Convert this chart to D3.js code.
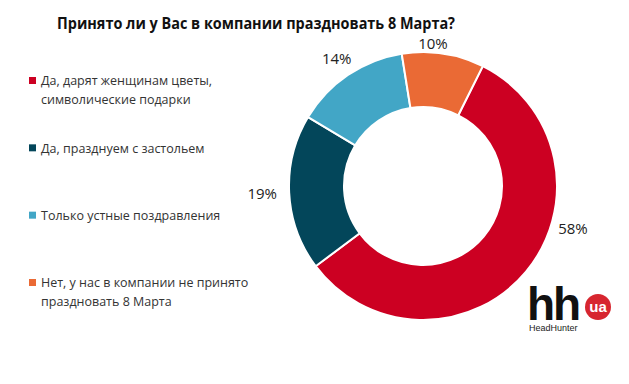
<!DOCTYPE html>
<html>
<head>
<meta charset="utf-8">
<script src="https://cdn.jsdelivr.net/npm/d3@7"></script>
<style>
  body { margin: 0; background: #fff; }
  svg { display: block; font-family: "Open Sans", "Noto Sans", sans-serif; }
</style>
</head>
<body>
<div id="chart"></div>
<script>
// data
const categories = [
  "Да, дарят женщинам цветы, символические подарки",
  "Да, празднуем с застольем",
  "Только устные поздравления",
  "Нет, у нас в компании не принято праздновать 8 Марта"
];
const legendLines = [
  ["Да, дарят женщинам цветы,", "символические подарки"],
  ["Да, празднуем с застольем"],
  ["Только устные поздравления"],
  ["Нет, у нас в компании не принято", "праздновать 8 Марта"]
];
const values = [58, 19, 14, 10];
const labels = ["58%", "19%", "14%", "10%"];
const colors = ["#cc0022", "#03465a", "#42a6c6", "#ea6a35"];

const W = 629, H = 384;
const cx = 423, cy = 186, outerR = 134, innerR = 79;

const svg = d3.select("#chart").append("svg")
  .attr("width", W).attr("height", H);

svg.append("rect").attr("width", W).attr("height", H).attr("fill", "#fff");

// title
svg.append("text")
  .attr("x", 256).attr("y", 29)
  .attr("text-anchor", "middle")
  .attr("textLength", 398)
  .attr("lengthAdjust", "spacingAndGlyphs")
  .style("font-size", "16px")
  .style("font-weight", "bold")
  .attr("fill", "#111")
  .text("Принято ли у Вас в компании праздновать 8 Марта?");

// donut
const startA = 26.5 * Math.PI / 180;
const pie = d3.pie().sort(null).value(d => d)
  .startAngle(startA).endAngle(startA + 2 * Math.PI);
const arcs = pie(values);
const arc = d3.arc().innerRadius(innerR).outerRadius(outerR);

const g = svg.append("g").attr("transform", "translate(" + cx + "," + cy + ")");
g.selectAll("path")
  .data(arcs)
  .enter().append("path")
  .attr("d", arc)
  .attr("fill", (d, i) => colors[i])
  .attr("stroke", "#fff")
  .attr("stroke-width", 2);

// labels - excel nudges the red and orange ones away from mid angle
const labelAngle = [106, null, null, 4];
const labelR = [156, 161, 154, 143];
function labelPos(d, i) {
  let a = labelAngle[i] != null ? labelAngle[i] * Math.PI / 180 : (d.startAngle + d.endAngle) / 2;
  return [labelR[i] * Math.sin(a), -labelR[i] * Math.cos(a)];
}
g.selectAll("text.lbl")
  .data(arcs)
  .enter().append("text")
  .attr("class", "lbl")
  .attr("x", (d, i) => labelPos(d, i)[0])
  .attr("y", (d, i) => labelPos(d, i)[1])
  .attr("dy", "0.35em")
  .attr("text-anchor", "middle")
  .style("font-size", "15px")
  .attr("fill", "#222")
  .text((d, i) => labels[i]);

// legend
const legendY = d3.scalePoint().domain(d3.range(categories.length)).range([81, 283]);
const leg = svg.append("g");
const item = leg.selectAll("g")
  .data(categories)
  .enter().append("g")
  .attr("transform", (d, i) => "translate(0," + legendY(i) + ")");
item.append("rect")
  .attr("x", 29).attr("y", -4)
  .attr("width", 7).attr("height", 7)
  .attr("fill", (d, i) => colors[i]);
item.each(function (d, i) {
  const t = d3.select(this).append("text")
    .attr("x", 41).attr("y", 0)
    .style("font-size", "12.5px")
    .attr("fill", "#333");
  legendLines[i].forEach((line, j) => {
    t.append("tspan").attr("x", 41).attr("dy", j === 0 ? "0.35em" : "19px").text(line);
  });
});

// logo
const logo = svg.append("g").attr("transform", "translate(529,321)");
logo.append("text")
  .attr("x", -2).attr("y", -1)
  .style("font-family", "'Liberation Sans', Arial, sans-serif")
  .style("font-size", "46px")
  .style("font-weight", "bold")
  .style("letter-spacing", "-2px")
  .attr("fill", "#111")
  .text("hh");
logo.append("circle")
  .attr("cx", 69).attr("cy", -14).attr("r", 13)
  .attr("fill", "#d7262f");
logo.append("text")
  .attr("x", 69).attr("y", -9)
  .attr("text-anchor", "middle")
  .style("font-family", "'Liberation Sans', Arial, sans-serif")
  .style("font-size", "15px")
  .style("font-weight", "bold")
  .attr("fill", "#fff")
  .text("ua");
logo.append("text")
  .attr("x", 0).attr("y", 10)
  .style("font-family", "'Liberation Sans', Arial, sans-serif")
  .style("font-size", "9px")
  .attr("fill", "#222")
  .text("HeadHunter");
</script>
</body>
</html>
